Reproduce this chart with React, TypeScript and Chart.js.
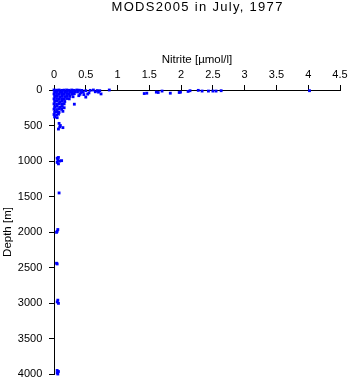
import React, { useEffect, useRef } from "react";
import { Chart, registerables } from "chart.js";

Chart.register(...registerables);

const TITLE = "MODS2005 in July, 1977";
const X_LABEL = "Nitrite [µmol/l]";
const Y_LABEL = "Depth [m]";
const X_MIN = 0;
const X_MAX = 4.5;
const X_STEP = 0.5;
const Y_MIN = 0;
const Y_MAX = 4000;
const Y_STEP = 500;

// Nitrite values [µmol/l]
const nitrite = [
  // 0-10 m
  0.0, 0.04, 0.08, 0.12, 0.16, 0.2, 0.24, 0.28, 0.32, 0.36, 0.4, 0.44, 0.5, 0.57, 0.62, 0.68, 0.72, 0.87,
  // 20-40 m
  0.01, 0.05, 0.09, 0.13, 0.17, 0.21, 0.25, 0.29, 0.33, 0.37, 0.42, 0.46, 0.55, 0.65, 0.7,
  // 50-65 m
  0.0, 0.04, 0.08, 0.12, 0.16, 0.2, 0.24, 0.28, 0.32, 0.41, 0.47, 0.53, 0.74,
  // 85-110 m
  0.01, 0.05, 0.09, 0.13, 0.17, 0.21, 0.25, 0.3, 0.39, 0.5,
  // 120-130 m
  0.0, 0.04, 0.08, 0.12, 0.16, 0.2, 0.24,
  // 155-165 m
  0.01, 0.05, 0.09, 0.13, 0.17,
  // 190-200 m
  0.0, 0.04, 0.08, 0.12, 0.16, 0.32,
  // 230-250 m
  0.01, 0.05, 0.09, 0.13, 0.16,
  // 265-300 m
  0.0, 0.04, 0.08, 0.12, 0.14,
  // 305-315 m
  0.01, 0.05, 0.08,
  // 340-350 m
  0.0, 0.04, 0.07,
  // 380-390 m
  0.01, 0.05,
  // ~500 m
  0.08, 0.1, 0.14, 0.07, 0.09,
  // ~1000 m
  0.05, 0.07, 0.06, 0.09, 0.12, 0.05, 0.07,
  // ~1450 m
  0.08,
  // ~2000 m
  0.06, 0.05, 0.04,
  // ~2450 m
  0.04, 0.05,
  // ~3000 m
  0.06, 0.05, 0.07,
  // ~4000 m
  0.05, 0.07, 0.05, 0.06,
  // high nitrite near the surface
  1.42, 1.46, 1.61, 1.64, 1.7, 1.83, 1.97, 1.99, 2.11, 2.14, 2.27, 2.33, 2.43, 2.5, 2.55, 2.63, 4.02,
];

// Depth values [m]
const depth = [
  0, 3, 0, 5, 2, 0, 4, 0, 5, 0, 3, 6, 10, 5, 0, 8, 10, 0,
  25, 20, 30, 22, 28, 20, 25, 30, 22, 28, 35, 30, 40, 25, 30,
  55, 50, 60, 52, 58, 50, 55, 60, 52, 60, 65, 58, 55,
  90, 85, 95, 88, 92, 85, 90, 95, 80, 100,
  125, 120, 130, 122, 128, 120, 125,
  160, 155, 165, 158, 162,
  195, 200, 192, 198, 195, 200,
  235, 230, 240, 232, 250,
  270, 275, 268, 272, 300,
  310, 305, 315,
  345, 350, 340,
  380, 390,
  470, 500, 530, 550, 520,
  960, 950, 990, 1000, 995, 1020, 1040,
  1450,
  1965, 1990, 2005,
  2440, 2450,
  2960, 2985, 3005,
  3950, 3965, 3985, 4000,
  50, 45, 30, 35, 15, 45, 35, 30, 20, 10, 5, 15, 15, 15, 15, 10, 10,
];

const FONT = "'Liberation Sans', Arial, Helvetica, sans-serif";

// Chart title, centred over the plot area like the reference.
const plotTitlePlugin = {
  id: "plotTitle",
  afterDraw(chart: any) {
    const { ctx, chartArea } = chart;
    ctx.save();
    ctx.letterSpacing = "1.3px";
    ctx.font = `normal 13px ${FONT}`;
    ctx.fillStyle = "#000";
    ctx.textAlign = "center";
    ctx.textBaseline = "middle";
    ctx.fillText(TITLE, (chartArea.left + chartArea.right) / 2 + 0.6, 7.5);
    ctx.restore();
  },
};

export default function App() {
  const ref = useRef<HTMLCanvasElement | null>(null);

  useEffect(() => {
    document.body.style.margin = "0";
    const canvas = ref.current;
    if (!canvas) return;
    const points = nitrite.map((x, i) => ({ x, y: depth[i] }));
    const chart = new Chart(canvas, {
      type: "scatter",
      data: {
        datasets: [
          {
            data: points,
            pointStyle: "rect",
            pointRadius: 2,
            pointBorderWidth: 0,
            backgroundColor: "#0000ff",
            borderColor: "#0000ff",
            clip: false,
          } as any,
        ],
      },
      plugins: [plotTitlePlugin],
      options: {
        responsive: false,
        animation: false,
        layout: { padding: { left: 0, right: 10, top: 14, bottom: 10 } },
        plugins: {
          legend: { display: false },
          tooltip: { enabled: false },
          title: { display: false },
        },
        scales: {
          x: {
            type: "linear",
            position: "top",
            min: X_MIN,
            max: X_MAX,
            ticks: {
              stepSize: X_STEP,
              color: "#000",
              padding: 3.4,
              font: { family: FONT, size: 11 },
              maxRotation: 0,
              callback: (v: any) => String(v),
            },
            grid: {
              display: true,
              drawOnChartArea: false,
              drawTicks: true,
              tickLength: 5,
              color: "#000",
            },
            border: { display: true, color: "#000", width: 1 },
            title: {
              display: true,
              text: X_LABEL,
              color: "#000",
              font: { family: FONT, size: 11.5 },
              padding: { top: 38.7, bottom: 0 },
            },
            afterFit: (scale: any) => {
              scale.height = 76;
              scale.paddingLeft = 0;
              scale.paddingRight = 0;
            },
          },
          y: {
            type: "linear",
            reverse: true,
            min: Y_MIN,
            max: Y_MAX,
            ticks: {
              stepSize: Y_STEP,
              color: "#000",
              padding: 6.7,
              font: { family: FONT, size: 11 },
              callback: (v: any) => String(v),
            },
            grid: {
              display: true,
              drawOnChartArea: false,
              drawTicks: true,
              tickLength: 5,
              color: "#000",
            },
            border: { display: true, color: "#000", width: 1 },
            title: {
              display: true,
              text: Y_LABEL,
              color: "#000",
              font: { family: FONT, size: 11.5 },
              padding: { top: 0.6, bottom: 0 },
            },
            afterFit: (scale: any) => {
              scale.width = 54;
              scale.paddingTop = 0;
              scale.paddingBottom = 0;
            },
          },
        },
      },
    });
    return () => chart.destroy();
  }, []);

  return (
    <div style={{ width: 350, height: 384 }}>
      <canvas ref={ref} width={350} height={384} style={{ display: "block" }} />
    </div>
  );
}
